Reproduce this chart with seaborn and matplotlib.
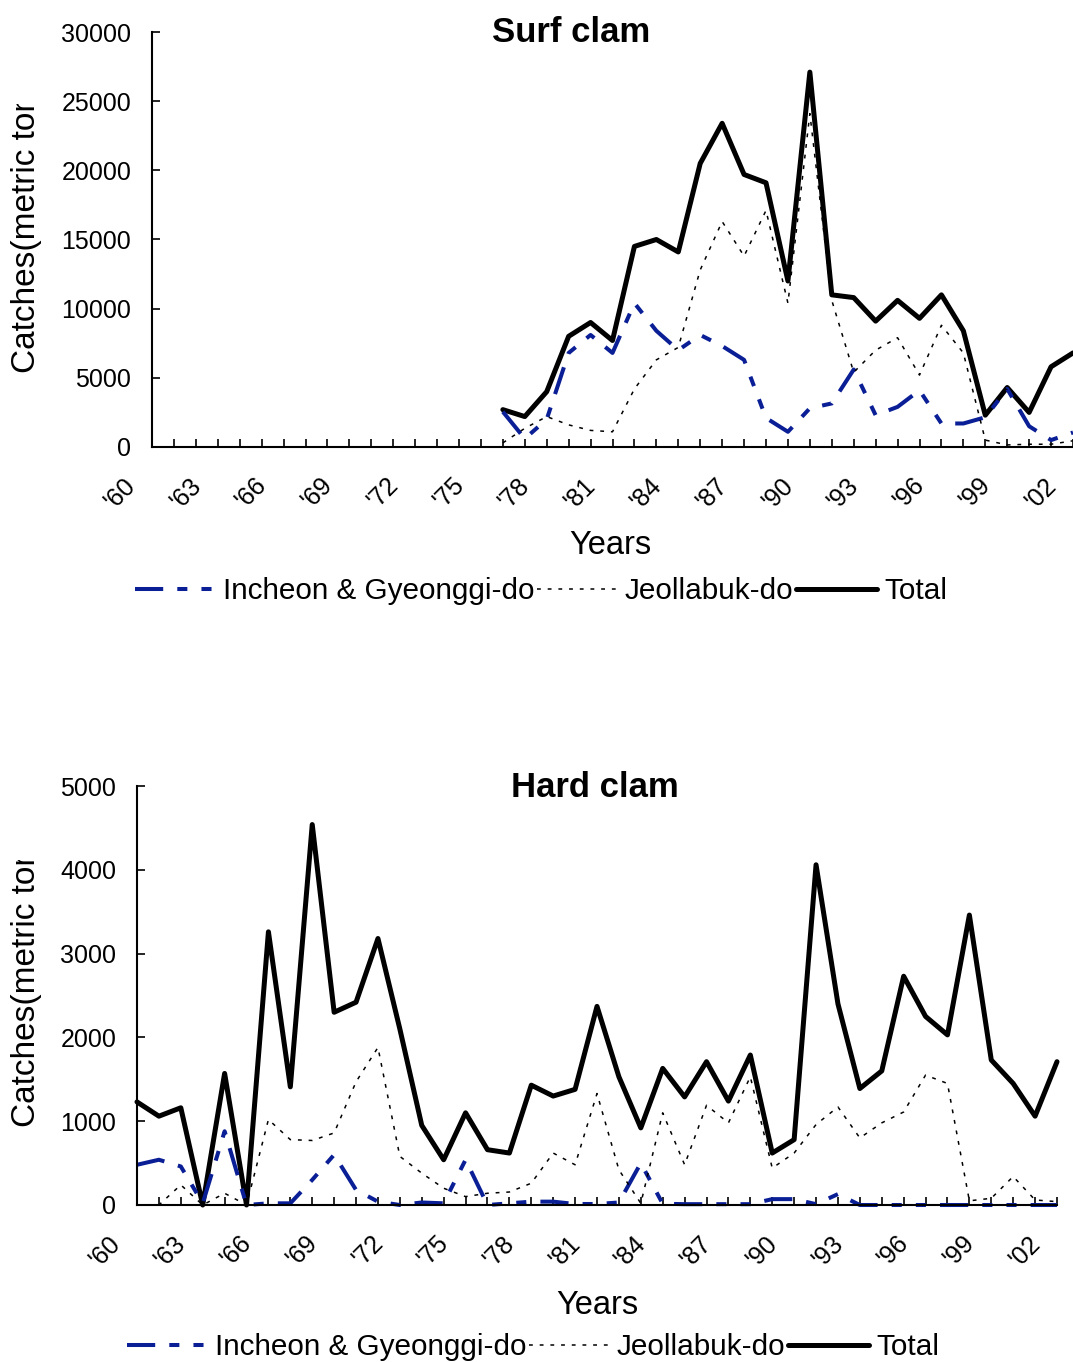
import numpy as np
import matplotlib
matplotlib.use("Agg")
import matplotlib.pyplot as plt
import seaborn as sns
from matplotlib.lines import Line2D
from matplotlib.transforms import Bbox, TransformedBbox, offset_copy

# ---- data ----
tick_years = list(range(1960, 2003, 3))
tick_labels = ["'" + str(y)[2:] for y in tick_years]
series_names = ["Incheon & Gyeonggi-do", "Jeollabuk-do", "Total"]

# Surf clam: catches recorded from 1976 on
surf_years = list(range(1976, 2003))
surf_incheon = [2550, 600, 2000, 6800, 8100, 6800, 10400, 8400, 7000, 8100,
                7300, 6300, 2100, 1100, 2800, 3150, 5600, 2300, 2900, 4100,
                1700, 1700, 2150, 4200, 1500, 500, 1050]
surf_jeollabuk = [300, 1350, 2200, 1600, 1200, 1100, 4200, 6300, 7200, 12800,
                  16300, 13800, 17100, 10400, 24100, 10600, 5400, 7000, 7900, 5200,
                  8800, 6800, 500, 150, 200, 200, 450]
surf_total = [2700, 2200, 4000, 8000, 9000, 7700, 14500, 15000, 14100, 20500,
              23400, 19700, 19100, 12000, 27100, 11000, 10800, 9100, 10600, 9300,
              11000, 8400, 2300, 4300, 2500, 5800, 6800]

# Hard clam: 1960-2002
hard_years = list(range(1960, 2003))
hard_incheon = [480, 540, 460, 20, 880, 0, 20, 20, 300, 600,
                180, 40, 0, 30, 20, 540, 0, 20, 40, 40,
                12, 12, 30, 500, 15, 10, 10, 10, 10, 70,
                70, 10, 130, 0, 0, 0, 0, 0, 0, 0,
                0, 0, 0]
hard_jeollabuk = [0, 0, 240, 0, 140, 0, 1020, 780, 770, 860,
                  1470, 1880, 580, 380, 200, 100, 140, 155, 260, 620,
                  480, 1330, 420, 20, 1100, 480, 1190, 980, 1530, 440,
                  620, 960, 1170, 800, 980, 1110, 1550, 1450, 50, 80,
                  340, 60, 40]
hard_total = [1230, 1060, 1160, 0, 1570, 0, 3260, 1410, 4540, 2300,
              2420, 3180, 2100, 950, 540, 1100, 660, 620, 1430, 1300,
              1380, 2370, 1530, 920, 1630, 1290, 1710, 1240, 1790, 620,
              780, 4060, 2400, 1390, 1600, 2730, 2250, 2030, 3460, 1730,
              1450, 1060, 1710]

# ---- styles ----
BLUE = "#0A1E96"
blue_ls = (0, (7, 3.5, 2.5, 3.5, 2.5, 3.5))
dot_ls = (0, (2.5, 4.5))
W, H = 1073, 1362

sns.set_theme(style="white")
plt.rcParams['font.family'] = ['Liberation Sans', 'DejaVu Sans']
plt.rcParams['text.color'] = 'black'
plt.rcParams['xtick.color'] = 'black'
plt.rcParams['ytick.color'] = 'black'
plt.rcParams['axes.labelcolor'] = 'black'

fig = plt.figure(figsize=(W / 100, H / 100), dpi=100)


def px(x, y):
    # pixel position (from top-left) -> figure fraction
    return x / W, 1 - y / H


def panel(left, top, right, bottom, x, inch, jeol, total, ymax, ystep,
          title, title_xy, years_xy, ylab_bottom, ylab_clip, legend_xy):
    ax = fig.add_axes([left / W, 1 - bottom / H, (right - left) / W, (bottom - top) / H])
    sns.lineplot(x=x, y=total, ax=ax, color="black", lw=3.6, clip_on=False,
                 solid_joinstyle="round")
    sns.lineplot(x=x, y=inch, ax=ax, color=BLUE, lw=2.9, linestyle=blue_ls, clip_on=False)
    sns.lineplot(x=x, y=jeol, ax=ax, color="black", lw=1.1, linestyle=dot_ls, clip_on=False)

    ax.set_xlim(1960, 2002)
    ax.set_ylim(0, ymax)
    ax.set_xticks(hard_years)
    ax.set_yticks(range(0, ymax + 1, ystep))
    ax.tick_params(axis="x", direction="in", length=6, width=1.2, color="black",
                   labelbottom=False, bottom=True)
    ax.tick_params(axis="y", direction="in", length=6, width=1.2, color="black",
                   labelsize=18, labelcolor="black", pad=15, left=True)
    ax.set_xlabel("")
    ax.set_ylabel("")
    sns.despine(ax=ax)
    for s in ["left", "bottom"]:
        ax.spines[s].set_color("black")
        ax.spines[s].set_linewidth(1.5)

    lab_tr = offset_copy(ax.get_xaxis_transform(), fig=fig, x=-12, y=-26, units="dots")
    for yr, lab in zip(tick_years, tick_labels):
        ax.text(yr, 0, lab, transform=lab_tr, rotation=45, ha="right", va="top",
                fontsize=18, color="black")

    fig.text(*px(*title_xy), title, ha="center", va="baseline", fontsize=25,
             fontweight="bold", color="black")
    fig.text(*px(*years_xy), "Years", ha="center", va="center", fontsize=23.5,
             color="black")

    t = fig.text(*px(27, ylab_bottom), "Catches(metric ton", rotation=90,
                 ha="center", va="bottom", fontsize=24, color="black")
    clip = Bbox([[0, 1 - (ylab_bottom + 40) / H], [0.1, 1 - ylab_clip / H]])
    t.set_clip_box(TransformedBbox(clip, fig.transFigure))
    t.set_clip_on(True)

    handles = [Line2D([], [], color=BLUE, lw=2.9, linestyle=blue_ls),
               Line2D([], [], color="black", lw=1.1, linestyle=dot_ls),
               Line2D([], [], color="black", lw=3.6)]
    fig.legend(handles, series_names, loc="center", bbox_to_anchor=px(*legend_xy),
               ncol=3, frameon=False, fontsize=21.4, handlelength=2.7,
               handletextpad=0.25, columnspacing=0.1, borderpad=0, borderaxespad=0,
               labelcolor="black")
    return ax


panel(152, 32, 1073, 447, surf_years, surf_incheon, surf_jeollabuk, surf_total,
      30000, 5000, "Surf clam", (571, 42), (610, 545), 373, 104, (541, 591))
panel(137, 786, 1057, 1205, hard_years, hard_incheon, hard_jeollabuk, hard_total,
      5000, 1000, "Hard clam", (595, 797), (597, 1305), 1127, 860, (533, 1347))

fig.savefig("out.png", dpi=100)
